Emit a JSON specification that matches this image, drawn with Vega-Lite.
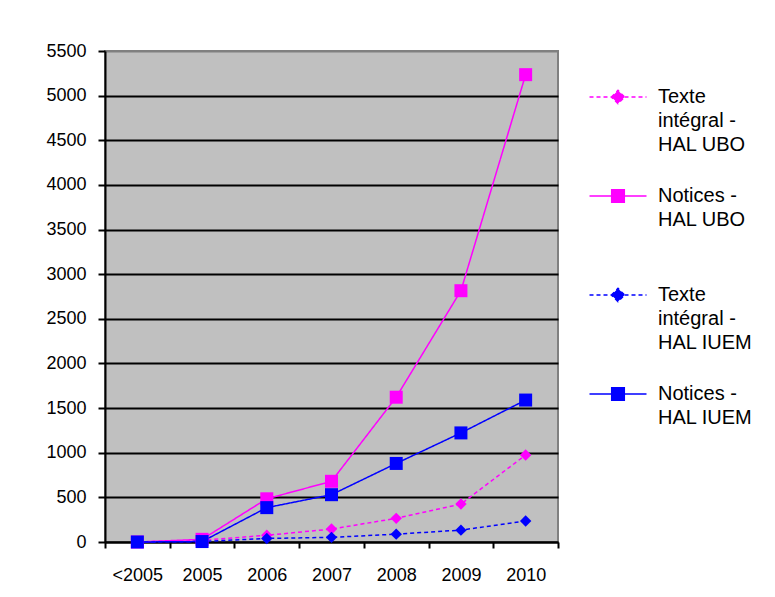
{
  "$schema": "https://vega.github.io/schema/vega-lite/v6.json",
  "width": 453,
  "height": 491,
  "padding": {"left": 45, "top": 42, "right": 5, "bottom": 5},
  "background": "white",
  "config": {
    "font": "Liberation Sans",
    "view": {"fill": "#c0c0c0", "stroke": "#808080", "strokeWidth": 2}
  },
  "data": {
    "values": [
      {"year": "<2005", "series": "Texte intégral - HAL UBO", "value": 0},
      {"year": "2005", "series": "Texte intégral - HAL UBO", "value": 20},
      {"year": "2006", "series": "Texte intégral - HAL UBO", "value": 75},
      {"year": "2007", "series": "Texte intégral - HAL UBO", "value": 145},
      {"year": "2008", "series": "Texte intégral - HAL UBO", "value": 265},
      {"year": "2009", "series": "Texte intégral - HAL UBO", "value": 425},
      {"year": "2010", "series": "Texte intégral - HAL UBO", "value": 975},
      {"year": "<2005", "series": "Notices - HAL UBO", "value": 0},
      {"year": "2005", "series": "Notices - HAL UBO", "value": 30},
      {"year": "2006", "series": "Notices - HAL UBO", "value": 484},
      {"year": "2007", "series": "Notices - HAL UBO", "value": 680},
      {"year": "2008", "series": "Notices - HAL UBO", "value": 1622},
      {"year": "2009", "series": "Notices - HAL UBO", "value": 2815},
      {"year": "2010", "series": "Notices - HAL UBO", "value": 5235},
      {"year": "<2005", "series": "Texte intégral - HAL IUEM", "value": 0},
      {"year": "2005", "series": "Texte intégral - HAL IUEM", "value": 5},
      {"year": "2006", "series": "Texte intégral - HAL IUEM", "value": 40},
      {"year": "2007", "series": "Texte intégral - HAL IUEM", "value": 52},
      {"year": "2008", "series": "Texte intégral - HAL IUEM", "value": 88},
      {"year": "2009", "series": "Texte intégral - HAL IUEM", "value": 133},
      {"year": "2010", "series": "Texte intégral - HAL IUEM", "value": 236},
      {"year": "<2005", "series": "Notices - HAL IUEM", "value": 0},
      {"year": "2005", "series": "Notices - HAL IUEM", "value": 5},
      {"year": "2006", "series": "Notices - HAL IUEM", "value": 385},
      {"year": "2007", "series": "Notices - HAL IUEM", "value": 530},
      {"year": "2008", "series": "Notices - HAL IUEM", "value": 880},
      {"year": "2009", "series": "Notices - HAL IUEM", "value": 1222},
      {"year": "2010", "series": "Notices - HAL IUEM", "value": 1590}
    ]
  },
  "encoding": {
    "x": {
      "field": "year",
      "type": "ordinal",
      "sort": ["<2005", "2005", "2006", "2007", "2008", "2009", "2010"],
      "scale": {"paddingInner": 0, "paddingOuter": 0},
      "axis": {
        "title": null,
        "labelAngle": 0,
        "labelFontSize": 18,
        "labelColor": "black",
        "labelPadding": 18,
        "tickBand": "extent",
        "tickSize": 6,
        "tickColor": "black",
        "tickWidth": 2,
        "domainColor": "black",
        "domainWidth": 2,
        "grid": false
      }
    },
    "y": {
      "field": "value",
      "type": "quantitative",
      "scale": {"domain": [0, 5500], "nice": false},
      "axis": {
        "title": null,
        "format": "d",
        "values": [0, 500, 1000, 1500, 2000, 2500, 3000, 3500, 4000, 4500, 5000, 5500],
        "labelFontSize": 18,
        "labelColor": "black",
        "labelPadding": 12,
        "tickSize": 7,
        "tickColor": "black",
        "tickWidth": 2,
        "domainColor": "black",
        "domainWidth": 2,
        "grid": true,
        "gridColor": {"condition": {"test": "datum.value == 5500", "value": "#808080"}, "value": "black"},
        "gridWidth": 2,
        "gridOpacity": 1
      }
    },
    "color": {
      "field": "series",
      "type": "nominal",
      "scale": {
        "domain": ["Texte intégral - HAL UBO", "Notices - HAL UBO", "Texte intégral - HAL IUEM", "Notices - HAL IUEM"],
        "range": ["#ff00ff", "#ff00ff", "#0000ff", "#0000ff"]
      },
      "legend": {
        "title": null,
        "orient": "right",
        "offset": 14,
        "padding": 36,
        "labelFontSize": 20,
        "labelColor": "black",
        "labelOffset": 30,
        "labelLimit": 200,
        "rowPadding": 31,
        "symbolSize": 144,
        "symbolStrokeWidth": 1.5,
        "labelExpr": "datum.label == 'Texte intégral - HAL UBO' ? ['Texte', 'intégral -', 'HAL UBO'] : datum.label == 'Notices - HAL UBO' ? ['Notices -', 'HAL UBO', ''] : datum.label == 'Texte intégral - HAL IUEM' ? ['Texte', 'intégral -', 'HAL IUEM'] : ['Notices -', 'HAL IUEM', '']",
        "encode": {
          "labels": {"update": {"lineHeight": {"value": 24}}},
          "symbols": {
            "update": {
              "fill": {"scale": "color", "field": "value"},
              "stroke": {"scale": "color", "field": "value"},
              "strokeWidth": {"value": 1.5},
              "opacity": {"value": 1}
            }
          }
        }
      }
    }
  },
  "layer": [
    {
      "mark": {"type": "line", "strokeWidth": 1.5},
      "encoding": {
        "strokeDash": {
          "field": "series",
          "type": "nominal",
          "scale": {
            "domain": ["Texte intégral - HAL UBO", "Notices - HAL UBO", "Texte intégral - HAL IUEM", "Notices - HAL IUEM"],
            "range": [[4, 3], [1, 0], [4, 3], [1, 0]]
          }
        }
      }
    },
    {
      "transform": [{"filter": "indexof(datum.series, 'Texte') == 0"}],
      "mark": {"type": "point", "shape": "diamond", "size": 130, "filled": true, "opacity": 1}
    },
    {
      "transform": [{"filter": "indexof(datum.series, 'Notices') == 0"}],
      "mark": {"type": "point", "shape": "square", "size": 169, "filled": true, "opacity": 1}
    },
    {
      "transform": [{"filter": "false"}],
      "mark": {"type": "point", "filled": true, "opacity": 1, "size": 144},
      "encoding": {
        "shape": {
          "field": "series",
          "type": "nominal",
          "scale": {
            "domain": ["Texte intégral - HAL UBO", "Notices - HAL UBO", "Texte intégral - HAL IUEM", "Notices - HAL IUEM"],
            "range": [
              "M-4.75,0H4.75M-1.1,0L0,-1.1L1.1,0L0,1.1Z",
              "M-4.75,0H4.75M-1.05,-1.05H1.05V1.05H-1.05Z",
              "M-4.75,0H4.75M-1.1,0L0,-1.1L1.1,0L0,1.1Z",
              "M-4.75,0H4.75M-1.05,-1.05H1.05V1.05H-1.05Z"
            ]
          }
        }
      }
    }
  ]
}
